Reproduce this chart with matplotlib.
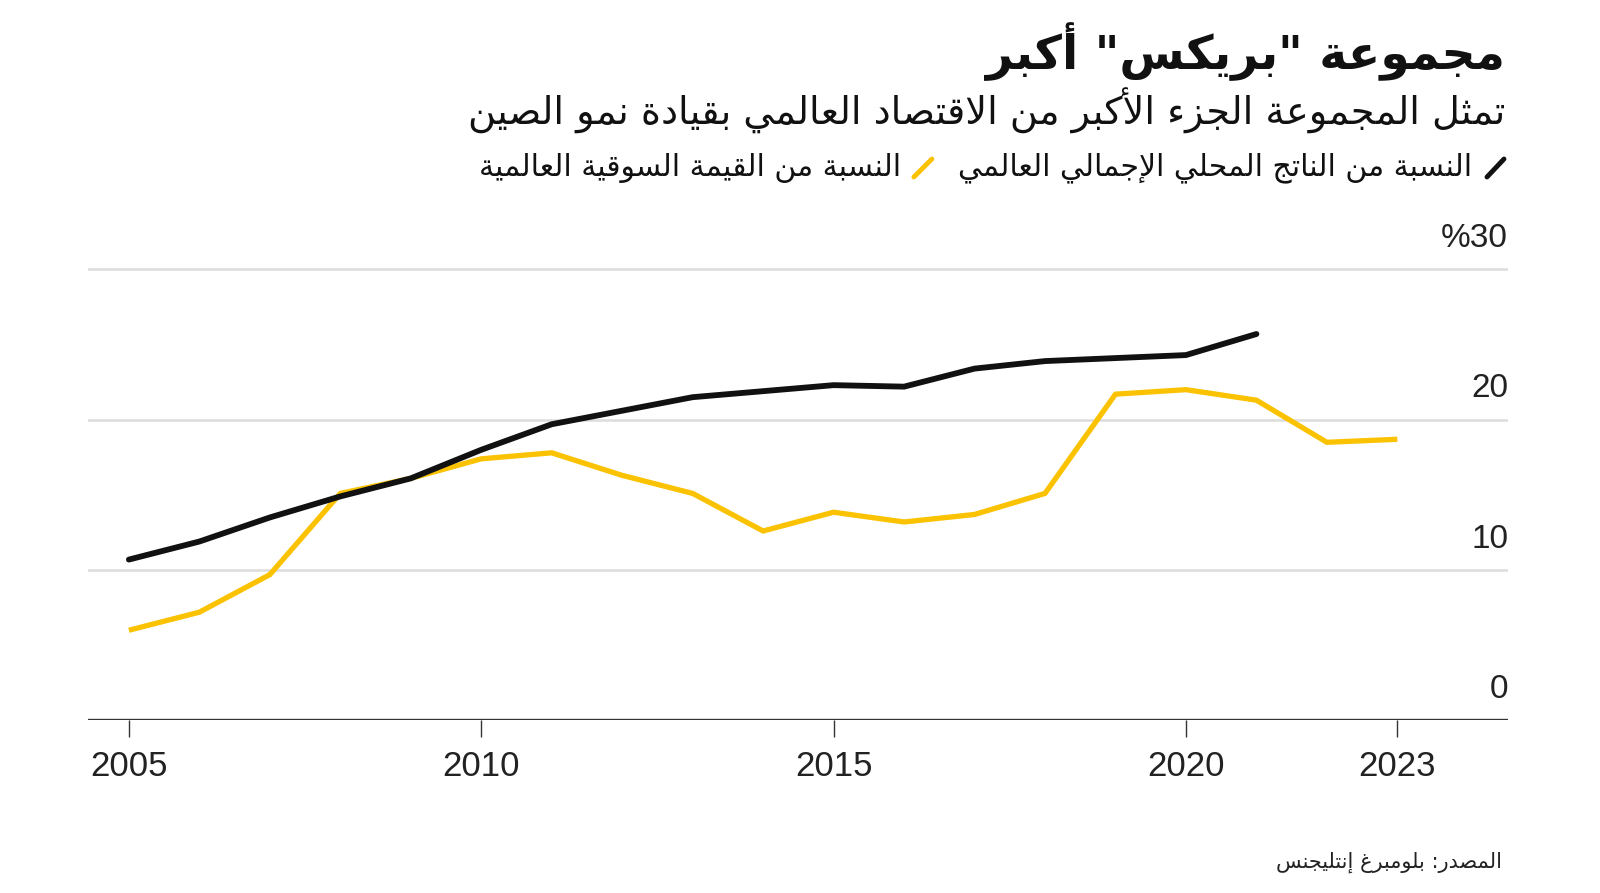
import re
import matplotlib
matplotlib.use('Agg')
import matplotlib.pyplot as plt
from matplotlib.lines import Line2D

# data (share of world total, %)
gdp_years = list(range(2005, 2022))
gdp_share = [10.7, 11.9, 13.5, 14.9, 16.1, 18.0, 19.7, 20.6, 21.5, 21.9, 22.3,
             22.2, 23.4, 23.9, 24.1, 24.3, 25.7]
mcap_years = list(range(2005, 2024))
mcap_share = [6.0, 7.2, 9.7, 15.1, 16.1, 17.4, 17.8, 16.3, 15.1, 12.6, 13.85,
              13.2, 13.7, 15.1, 21.7, 22.0, 21.3, 18.5, 18.7]

tick_years = [2005, 2010, 2015, 2020, 2023]
grid_vals = [10, 20, 30]
y_labels = ['0', '10', '20', '%30']

title = 'مجموعة "بريكس" أكبر'
subtitle = 'تمثل المجموعة الجزء الأكبر من الاقتصاد العالمي بقيادة نمو الصين'
gdp_label = 'النسبة من الناتج المحلي الإجمالي العالمي'
mcap_label = 'النسبة من القيمة السوقية العالمية'
source = 'المصدر: بلومبرغ إنتليجنس'

BLACK = '#111111'
YELLOW = '#FAC200'

# --- tiny arabic shaper: matplotlib has no complex text layout ---
# (letter, first presentation form, number of forms)
_letters = [
    ('\u0621', 0xFE80, 1), ('\u0622', 0xFE81, 2), ('\u0623', 0xFE83, 2),
    ('\u0624', 0xFE85, 2), ('\u0625', 0xFE87, 2), ('\u0626', 0xFE89, 4),
    ('\u0627', 0xFE8D, 2), ('\u0628', 0xFE8F, 4), ('\u0629', 0xFE93, 2),
    ('\u062A', 0xFE95, 4), ('\u062B', 0xFE99, 4), ('\u062C', 0xFE9D, 4),
    ('\u062D', 0xFEA1, 4), ('\u062E', 0xFEA5, 4), ('\u062F', 0xFEA9, 2),
    ('\u0630', 0xFEAB, 2), ('\u0631', 0xFEAD, 2), ('\u0632', 0xFEAF, 2),
    ('\u0633', 0xFEB1, 4), ('\u0634', 0xFEB5, 4), ('\u0635', 0xFEB9, 4),
    ('\u0636', 0xFEBD, 4), ('\u0637', 0xFEC1, 4), ('\u0638', 0xFEC5, 4),
    ('\u0639', 0xFEC9, 4), ('\u063A', 0xFECD, 4), ('\u0641', 0xFED1, 4),
    ('\u0642', 0xFED5, 4), ('\u0643', 0xFED9, 4), ('\u0644', 0xFEDD, 4),
    ('\u0645', 0xFEE1, 4), ('\u0646', 0xFEE5, 4), ('\u0647', 0xFEE9, 4),
    ('\u0648', 0xFEED, 2), ('\u0649', 0xFEEF, 2), ('\u064A', 0xFEF1, 4),
]
LETTERS = {c: (b, n) for c, b, n in _letters}
LAMALEF = {'\u0622': 0xFEF5, '\u0623': 0xFEF7, '\u0625': 0xFEF9, '\u0627': 0xFEFB}


def shape(s):
    toks = []
    i = 0
    while i < len(s):
        c = s[i]
        if c == '\u0644' and i + 1 < len(s) and s[i + 1] in LAMALEF:
            toks.append((LAMALEF[s[i + 1]], 2))
            i += 2
            continue
        if c in LETTERS:
            toks.append(LETTERS[c])
        else:
            toks.append((c, 0))
        i += 1
    out = []
    for j, (b, n) in enumerate(toks):
        if n == 0:
            out.append(b)
            continue
        prev = j > 0 and toks[j - 1][1] == 4
        nxt = n == 4 and j + 1 < len(toks) and toks[j + 1][1] >= 2
        if n == 1:
            code = b
        elif n == 2:
            code = b + 1 if prev else b
        else:
            code = b + (3 if prev and nxt else 1 if prev else 2 if nxt else 0)
        out.append(chr(code))
    vis = ''.join(out)[::-1]
    return re.sub(r'[0-9A-Za-z.%]+', lambda m: m.group(0)[::-1], vis)


W, H = 1600, 893
fig = plt.figure(figsize=(16, 8.93), dpi=100)
ax = fig.add_axes([0.055, 0.1932, 0.8875, 0.5220])

for g in grid_vals:
    ax.axhline(g, color='#dcdcdc', lw=1.8, zorder=1)
ax.axhline(0, color='#333333', lw=2.4, zorder=2)

ax.plot(mcap_years, mcap_share, color=YELLOW, lw=3.8, zorder=3,
        solid_joinstyle='miter', solid_capstyle='butt')
ax.plot(gdp_years, gdp_share, color=BLACK, lw=4.2, zorder=4,
        solid_joinstyle='miter', solid_capstyle='round')

ax.set_xlim(2004.42, 2024.57)
ax.set_ylim(0, 31)
for sp in ax.spines.values():
    sp.set_visible(False)
ax.set_yticks([])
ax.set_xticks(tick_years)
ax.set_xticklabels([str(y) for y in tick_years], fontsize=25,
                   family='Liberation Sans', color='#222222')
ax.tick_params(axis='x', length=12, width=1, color='#333333', pad=9)

ytr = ax.get_yaxis_transform()
for v, lab in zip([0] + grid_vals, y_labels):
    ax.text(1.0, v + 2.05, lab, transform=ytr, ha='right', va='center',
            fontsize=24, family='Liberation Sans', color='#222222')

ar = 'DejaVu Sans'
fig.text(1505 / W, 1 - 52 / H, shape(title), ha='right', va='center',
         fontsize=34, fontweight='bold', family=ar, color=BLACK)
fig.text(1505 / W, 1 - 111 / H, shape(subtitle), ha='right', va='center',
         fontsize=27.5, family=ar, color=BLACK)

# legend row, built right to left
ly = 1 - 168 / H
fig.add_artist(Line2D([1487 / W, 1504 / W], [1 - 177 / H, 1 - 159 / H],
                      color=BLACK, lw=3.5, solid_capstyle='round'))
t1 = fig.text(1472 / W, ly, shape(gdp_label), ha='right', va='center',
              fontsize=21.5, family=ar, color=BLACK)
r = fig.canvas.get_renderer()
x_left = t1.get_window_extent(r).x0
sx = x_left - 26
fig.add_artist(Line2D([(sx - 18) / W, sx / W], [1 - 177 / H, 1 - 159 / H],
                      color=YELLOW, lw=3.5, solid_capstyle='round'))
fig.text((sx - 31) / W, ly, shape(mcap_label), ha='right', va='center',
         fontsize=21.5, family=ar, color=BLACK)

fig.text(1502 / W, 1 - 862 / H, shape(source), ha='right', va='center',
         fontsize=15, family=ar, color='#222222')

fig.savefig('out.png', dpi=100, facecolor='white')
